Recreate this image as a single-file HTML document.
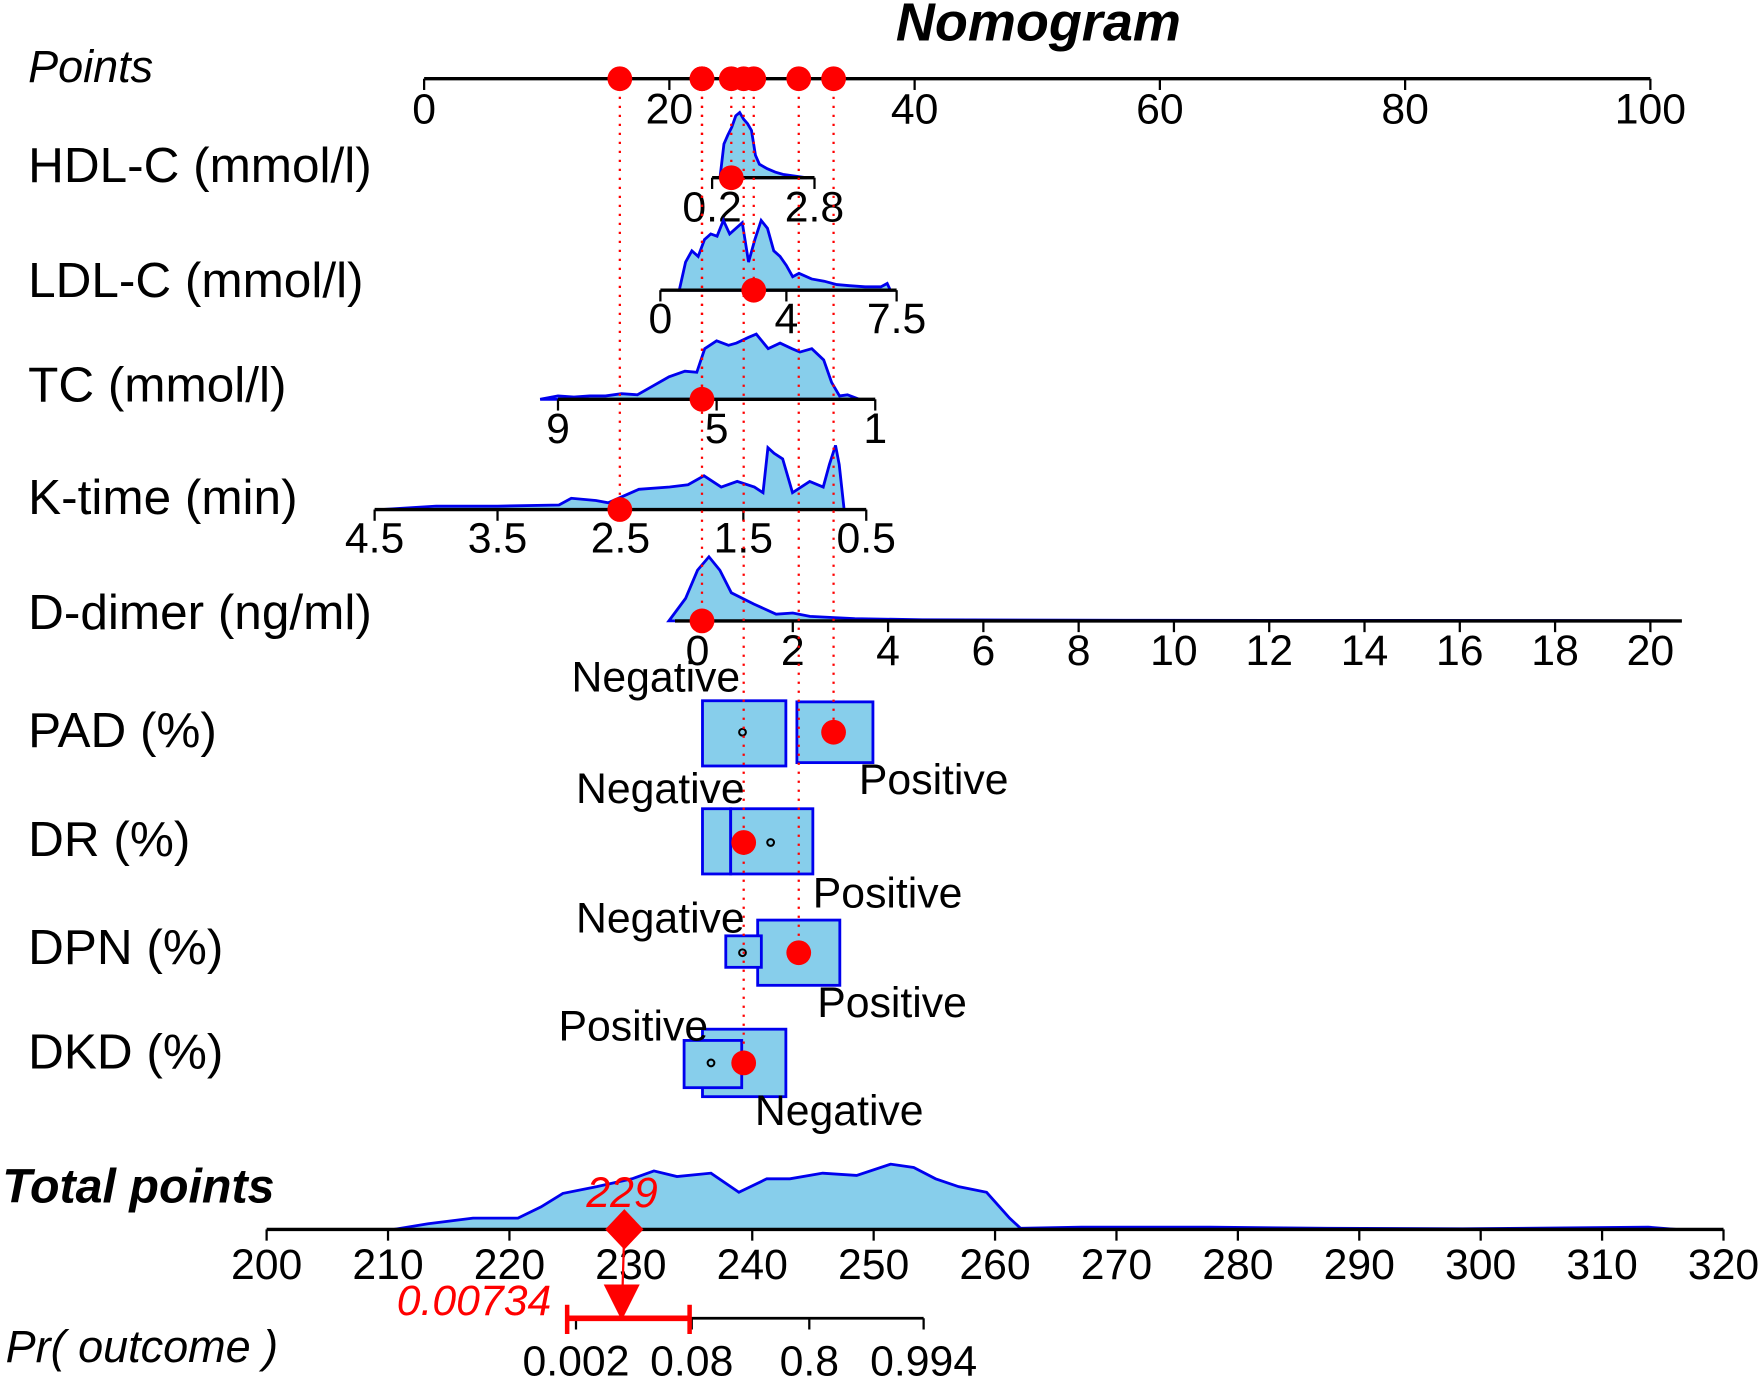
<!DOCTYPE html>
<html><head><meta charset="utf-8"><style>
html,body{margin:0;padding:0;background:#fff;}
svg{display:block;font-family:"Liberation Sans",Arial,sans-serif;}
</style></head><body>
<svg id="nomo" width="1764" height="1379" viewBox="0 0 1568 1226" preserveAspectRatio="none" xmlns="http://www.w3.org/2000/svg">
<text x="923" y="36" text-anchor="middle" font-size="48" font-weight="bold" font-style="italic">Nomogram</text>
</svg>
<script>
// ---- data ----
const pointsTicks = [0,20,40,60,80,100];
const varLabels = ["HDL-C (mmol/l)","LDL-C (mmol/l)","TC (mmol/l)","K-time (min)","D-dimer (ng/ml)","PAD (%)","DR (%)","DPN (%)","DKD (%)"];
const hdlTicks = [0.2,2.8];
const hdlX = [0.4,0.5,0.6,0.7,0.8,0.9,1.0,1.1,1.2,1.3,1.4,1.6,1.8,2.0,2.2,2.4,2.6];
const hdlD = [0,30,38,45,55,58,52,48,42,20,12,8,5,3,2,1,0];
const ldlTicks = [0,4,7.5];
const ldlX = [0.6,0.8,1.0,1.2,1.4,1.6,1.8,2.0,2.2,2.4,2.6,2.8,3.0,3.2,3.4,3.6,3.8,4.0,4.2,4.4,4.8,5.2,5.6,6.0,6.5,7.0,7.2,7.3];
const ldlD = [0,25,35,30,45,50,48,62,50,55,60,25,45,62,55,35,30,22,12,15,10,8,5,4,3,3,6,0];
const tcTicks = [9,5,1];
const tcX = [9.45,9.0,8.6,8.2,7.8,7.4,7.0,6.6,6.2,5.8,5.5,5.3,5.0,4.7,4.5,4.2,4.0,3.7,3.4,3.1,2.9,2.6,2.3,2.1,1.9,1.7,1.4];
const tcD = [0,3,2,3,3,5,4,12,20,25,24,45,52,48,50,55,58,45,50,45,42,45,35,15,3,4,0];
const ktTicks = [4.5,3.5,2.5,1.5,0.5];
const ktX = [4.44,4.0,3.5,3.0,2.9,2.7,2.6,2.35,2.1,1.95,1.82,1.68,1.55,1.41,1.34,1.3,1.25,1.18,1.1,0.96,0.85,0.8,0.75,0.72,0.68];
const ktD = [0,3,3,4,10,8,6,18,20,22,30,20,25,20,15,55,50,45,15,25,20,40,57,40,0];
const ddTicks = [0,2,4,6,8,10,12,14,16,18,20];
const ddX = [-0.6,-0.25,0,0.24,0.47,0.71,1.18,1.65,2.0,2.36,3.3,4.72,8.97,18,20.6];
const ddD = [0,20,45,57,45,25,15,6,7,4,2,1,0.5,0.3,0];
const totTicks = [200,210,220,230,240,250,260,270,280,290,300,310,320];
const totX = [210.5,213.3,217,220.7,222.6,224.4,227.2,230.1,231.9,233.8,236.6,238.9,241.2,243.1,245.8,248.6,251.4,253.3,255.1,257,259.3,261.2,262.1,267.1,272.7,277.7,287.4,298.5,313.8,316.1];
const totD = [0,5,10,10,20,32,38,45,52,47,50,33,45,45,50,48,58,55,45,38,33,10,1,2,2,2,1,0.5,2,0];
const prTicks = [0.002,0.08,0.8,0.994];
const obsPoints = [15.96,22.66,22.66,25.05,26.06,26.88,30.55,33.39];
const totalObs = 229;
const prObs = 0.00734;
const prCI = [0.0015,0.075];
// categorical boxes: [pointsLeft, pointsRight, halfHeight]
const padNeg=[22.7,29.5,29], padPos=[30.4,36.6,27];
const drNeg=[22.7,25.0,29], drPos=[25.0,31.7,29];
const dpnNeg=[24.6,27.5,14], dpnPos=[27.2,33.9,29];
const dkdNeg=[22.7,29.5,30], dkdPos=[21.2,25.9,21];

// ---- helpers ----
const svg=document.getElementById('nomo');
const NS='http://www.w3.org/2000/svg';
function mk(tag,attrs,parent){const e=document.createElementNS(NS,tag);for(const k in attrs)e.setAttribute(k,attrs[k]);(parent||svg).appendChild(e);return e;}
const P0=377,P100=1467;
const TF=38;
function px(p){return P0+(P100-P0)*p/100;}
function lin(v,v0,x0,v1,x1){return x0+(v-v0)*(x1-x0)/(v1-v0);}
function txt(s,x,y,size,opts){const t=mk('text',Object.assign({x:x,y:y,'font-size':size},opts||{}));t.textContent=s;return t;}

// Points axis
const pa=mk('g',{});


mk('line',{x1:px(0),x2:px(100),y1:70,y2:70,stroke:'#000','stroke-width':3},pa);
pointsTicks.forEach(t=>{mk('line',{x1:px(t),x2:px(t),y1:70,y2:80,stroke:'#000','stroke-width':2},pa);
 const l=txt(String(t),px(t),110,TF,{'text-anchor':'middle'});pa.appendChild(l);});
const pl=txt('Points',25,73,40,{'font-style':'italic'});



// variable labels
const labY=[162,264,357,457,559,664,761,857,950];
varLabels.forEach((s,i)=>{const t=txt(s,25,labY[i],44);
 
 });

// continuous axis with density
function contVar(name,ticks,v0,x0,v1,x1,y,labY,xs,ds,xStart,xEnd){
 const g=mk('g',{});
 
 
 const f=v=>lin(v,v0,x0,v1,x1);
 let d='M'+f(xs[0])+','+y;
 xs.forEach((v,i)=>{d+=' L'+f(v)+','+(y-ds[i]);});
 d+=' L'+f(xs[xs.length-1])+','+y+' Z';
 const den=mk('path',{d:d,fill:'#87ceeb',stroke:'#0000ee','stroke-width':2.5},g);
 
 
 mk('line',{x1:xStart!==undefined?xStart:f(ticks[0]),x2:xEnd!==undefined?xEnd:f(ticks[ticks.length-1]),y1:y,y2:y,stroke:'#000','stroke-width':3},g);
 ticks.forEach(t=>{mk('line',{x1:f(t),x2:f(t),y1:y,y2:y+10,stroke:'#000','stroke-width':2},g);
  g.appendChild(txt(String(t),f(t),labY,TF,{'text-anchor':'middle'}));});
 return f;
}
contVar('hdl-c',hdlTicks,0.2,633,2.8,724,158,197,hdlX,hdlD);
contVar('ldl-c',ldlTicks,0,587,7.5,797,258,296,ldlX,ldlD);
contVar('tc',tcTicks,9,496,1,778,355,394,tcX,tcD);
contVar('k-time',ktTicks,4.5,333,0.5,770,453,491,ktX,ktD);
contVar('d-dimer',ddTicks,0,620,20,1467,552,591,ddX,ddD,600,1495);

// categorical
function box(name,b,y){const r=mk('rect',{x:px(b[0]),y:y-b[2],width:px(b[1])-px(b[0]),height:2*b[2],fill:'#87ceeb',stroke:'#0000ee','stroke-width':2.5});
 
 }
function circ(x,y){mk('circle',{cx:x,cy:y,r:3,fill:'none',stroke:'#000','stroke-width':1.8});}
function clab(s,x,y,name){const t=txt(s,x,y,TF,{'text-anchor':'middle'});
 
 }
box('pad-negative-box',padNeg,652);box('pad-positive-box',padPos,651);
clab('Negative',583,615,'pad-negative-label');clab('Positive',830,706,'pad-positive-label');
box('dr-negative-box',drNeg,748);box('dr-positive-box',drPos,748);
clab('Negative',587,714,'dr-negative-label');clab('Positive',789,807,'dr-positive-label');
box('dpn-positive-box',dpnPos,847);box('dpn-negative-box',dpnNeg,846);
clab('Negative',587,829,'dpn-negative-label');clab('Positive',793,904,'dpn-positive-label');
box('dkd-negative-box',dkdNeg,945);box('dkd-positive-box',dkdPos,946);
clab('Positive',563,925,'dkd-positive-label');clab('Negative',746,1000,'dkd-negative-label');
circ(660,651);circ(685,749);circ(660,847);circ(632,945);

// observed dots and dotted lines
const obsTargetY=[453,552,355,158,945,258,847,651];
obsPoints.forEach((p,i)=>{
 const l=mk('line',{x1:px(p),x2:px(p),y1:70,y2:obsTargetY[i],stroke:'#ff0000','stroke-width':2,'stroke-dasharray':'2,6'});
 
 
});
obsPoints.forEach((p,i)=>{
 const a=mk('circle',{cx:px(p),cy:70,r:11,fill:'#ff0000'});
 
 
 const b=mk('circle',{cx:px(p),cy:obsTargetY[i],r:11,fill:'#ff0000'});
 
 
});
const drd=mk('circle',{cx:px(26.06),cy:749,r:11,fill:'#ff0000'});



// Total points
const tx=v=>lin(v,200,237,320,1532);
const tl=txt('Total points',2,1069,43,{'font-weight':'bold','font-style':'italic'});


const tg=mk('g',{});


let td='M'+tx(totX[0])+',1093';
totX.forEach((v,i)=>{td+=' L'+tx(v)+','+(1093-totD[i]);});
td+=' L'+tx(totX[totX.length-1])+',1093 Z';
const tden=mk('path',{d:td,fill:'#87ceeb',stroke:'#0000ee','stroke-width':2.5},tg);


mk('line',{x1:tx(200),x2:tx(320),y1:1093,y2:1093,stroke:'#000','stroke-width':3},tg);
totTicks.forEach(t=>{mk('line',{x1:tx(t),x2:tx(t),y1:1093,y2:1103,stroke:'#000','stroke-width':2},tg);
 tg.appendChild(txt(String(t),tx(t),1137,TF,{'text-anchor':'middle'}));});

// Pr axis (logit scale)
const lg=p=>Math.log(p/(1-p));
const prx=p=>lin(lg(p),lg(0.002),512,lg(0.994),821);
const pr=txt('Pr( outcome )',5,1211,40,{'font-style':'italic'});


const pg=mk('g',{});


mk('line',{x1:prx(0.002),x2:prx(0.994),y1:1172,y2:1172,stroke:'#000','stroke-width':2.5},pg);
prTicks.forEach(t=>{mk('line',{x1:prx(t),x2:prx(t),y1:1172,y2:1182,stroke:'#000','stroke-width':2},pg);
 pg.appendChild(txt(String(t),prx(t),1223,TF,{'text-anchor':'middle'}));});
// CI
const c0=prx(prCI[0]),c1=prx(prCI[1]);
const ci=mk('g',{});


mk('line',{x1:c0,x2:c1,y1:1172,y2:1172,stroke:'#ff0000','stroke-width':5},ci);
mk('line',{x1:c0,x2:c0,y1:1160,y2:1186,stroke:'#ff0000','stroke-width':4},ci);
mk('line',{x1:c1,x2:c1,y1:1160,y2:1186,stroke:'#ff0000','stroke-width':4},ci);
// total marker
const dx=tx(totalObs)+5, ax=prx(prObs)+5;
mk('line',{x1:dx,x2:ax,y1:1093,y2:1170,stroke:'#ff0000','stroke-width':2});
const dm=mk('path',{d:`M${dx},1075 L${dx+17},1093 L${dx},1111 L${dx-17},1093 Z`,fill:'#ff0000'});


const tr=mk('path',{d:`M${ax-16},1142 L${ax+16},1142 L${ax},1174 Z`,fill:'#ff0000'});


const t229=txt(String(totalObs),dx-2,1073,TF,{'text-anchor':'middle','font-style':'italic',fill:'#ff0000'});


const tp=txt(String(prObs),490,1169,TF,{'text-anchor':'end','font-style':'italic',fill:'#ff0000'});


</script>
</body></html>
